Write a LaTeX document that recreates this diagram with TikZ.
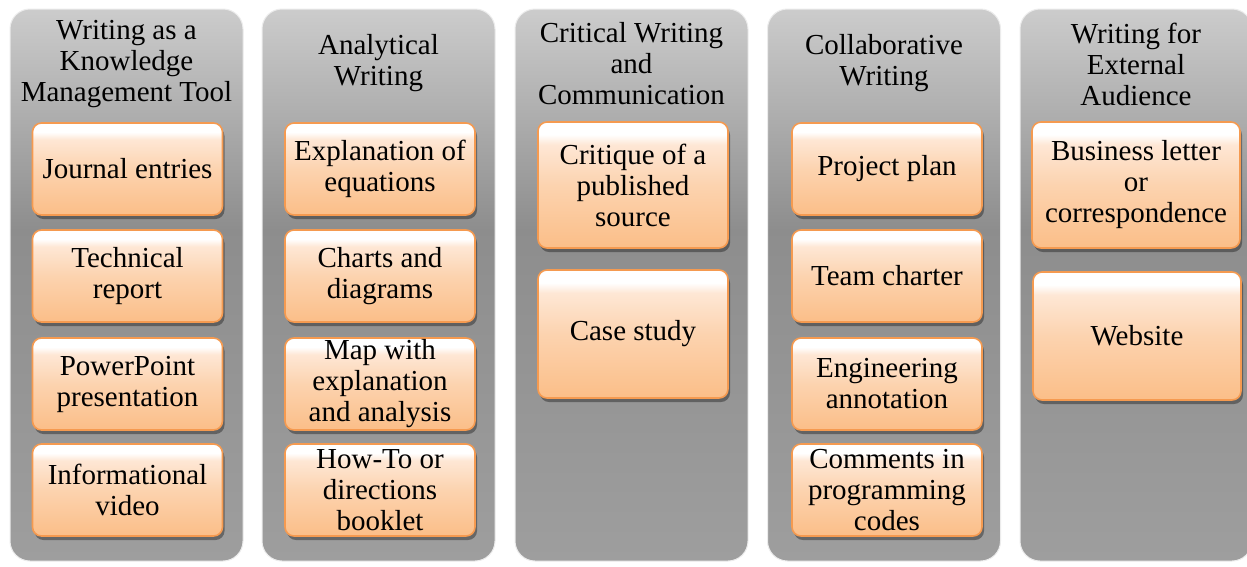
\documentclass[tikz,border=0pt]{standalone}
\usepackage{fontspec}
\setmainfont{Liberation Serif}
\usetikzlibrary{shadows}
\definecolor{oB}{HTML}{FBBE88}
\definecolor{oM}{HTML}{FCD3AF}
\definecolor{oL}{HTML}{FEE7D5}
\definecolor{oEdge}{HTML}{F59A50}
\definecolor{gT}{HTML}{CCCCCC}
\definecolor{gB}{HTML}{9E9E9E}
\pgfdeclareverticalshading{boxshade}{100bp}{color(0bp)=(oB); color(25bp)=(oB); color(50bp)=(oM); color(66bp)=(oL); color(70bp)=(white); color(75bp)=(white); color(100bp)=(white)}
\pgfdeclareverticalshading{panelshade}{100bp}{color(0bp)=(gB); color(25bp)=(gB); color(55bp)=(gray!55!gB); color(75bp)=(gT); color(100bp)=(gT)}
\tikzset{
  txt/.style={font=\fontsize{29}{31}\selectfont, align=center, inner sep=0pt, text=black},
  panel/.style={rounded corners=20pt, shading=panelshade, minimum width=233pt, minimum height=552pt, inner sep=0pt, draw=white!85!gray, line width=1pt},
  itembox/.style={txt, rounded corners=9pt, shading=boxshade, draw=oEdge, line width=1.6pt, minimum width=190pt,
    drop shadow={shadow xshift=2pt, shadow yshift=-4pt, opacity=0.35, fill=black}},
  title/.style={txt}
}
\begin{document}
\begin{tikzpicture}[x=1pt,y=-1pt]
\useasboundingbox (0,0) rectangle (1247,566);
\clip (0,0) rectangle (1247,566);
\fill[white] (0,0) rectangle (1247,566);
% panels
\node[panel] (p1) at (126.5,285) {};
\node[panel] (p2) at (378.5,285) {};
\node[panel] (p3) at (631.5,285) {};
\node[panel] (p4) at (884,285) {};
\node[panel, minimum width=232pt] (p5) at (1136,285) {};
% titles
\node[title] (t1) at (126.5,64) {Writing as a\\Knowledge\\Management Tool};
\node[title] (t2) at (378.5,63) {Analytical\\Writing};
\node[title] (t3) at (631.5,64) {Critical Writing\\and\\Communication};
\node[title] (t4) at (884,63) {Collaborative\\Writing};
\node[title] (t5) at (1136,64) {Writing for\\External\\Audience};
% column 1
\node[itembox, minimum height=92pt] (a1) at (127.5,169) {Journal entries};
\node[itembox, minimum height=92pt] (a2) at (127.5,276) {Technical\\report};
\node[itembox, minimum height=92pt] (a3) at (127.5,384) {PowerPoint\\presentation};
\node[itembox, minimum height=92pt] (a4) at (127.5,490) {Informational\\video};
% column 2
\node[itembox, minimum height=92pt] (b1) at (380,169) {Explanation of\\equations};
\node[itembox, minimum height=92pt] (b2) at (380,276) {Charts and\\diagrams};
\node[itembox, minimum height=92pt] (b3) at (380,384) {Map with\\explanation\\and analysis};
\node[itembox, minimum height=92pt] (b4) at (380,490) {How-To or\\directions\\booklet};
% column 3
\node[itembox, minimum height=126pt] (c1) at (633,185) {Critique of a\\published\\source};
\node[itembox, minimum height=128pt] (c2) at (633,334) {Case study};
% column 4
\node[itembox, minimum height=92pt] (d1) at (887,169) {Project plan};
\node[itembox, minimum height=92pt] (d2) at (887,276) {Team charter};
\node[itembox, minimum height=92pt] (d3) at (887,384) {Engineering\\annotation};
\node[itembox, minimum height=92pt] (d4) at (887,490) {Comments in\\programming\\codes};
% column 5
\node[itembox, minimum width=208pt, minimum height=126pt] (e1) at (1136,185) {Business letter\\or\\correspondence};
\node[itembox, minimum width=208pt, minimum height=128pt] (e2) at (1137,336) {Website};
\end{tikzpicture}
\end{document}
